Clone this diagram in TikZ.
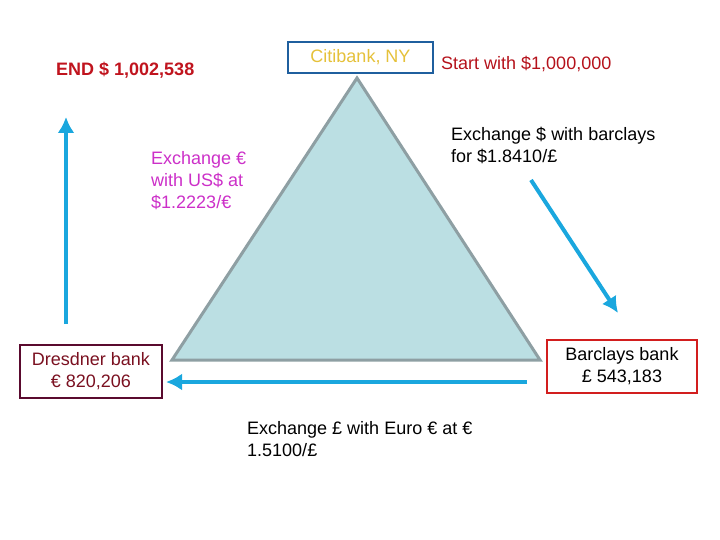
\documentclass[tikz,border=0pt]{standalone}
\usepackage{fontspec}
\setmainfont{Liberation Sans}
\usetikzlibrary{arrows.meta}
\usetikzlibrary{positioning}

\definecolor{flowblue}{HTML}{1AA7DE}
\definecolor{trifill}{HTML}{BBDFE3}
\definecolor{triedge}{HTML}{8E9FA3}
\definecolor{citiblue}{HTML}{1F5F9E}
\definecolor{citigold}{HTML}{E5C13A}
\definecolor{endred}{HTML}{C0141E}
\definecolor{startred}{HTML}{B5121B}
\definecolor{eurotext}{HTML}{CC30C8}
\definecolor{dresdneredge}{HTML}{5A0A2E}
\definecolor{dresdnertext}{HTML}{7A1020}
\definecolor{barclaysedge}{HTML}{D21E1E}

\begin{document}
\begin{tikzpicture}[x=1pt,y=-1pt,
    every node/.style={font=\fontsize{18}{22}\selectfont},
    bank/.style={draw,line width=2.5pt,align=center,inner sep=0pt},
    note/.style={align=left,inner sep=0pt,anchor=north west},
    flow/.style={draw=flowblue,line width=4pt,-{Latex[length=16pt,width=17pt]}}]

  \useasboundingbox (0,0) rectangle (720,540);

  % the triangle
  \coordinate (apex)  at (357,78);
  \coordinate (left)  at (172,360);
  \coordinate (right) at (540,360);
  \draw [fill=trifill,draw=triedge,line width=3pt,line join=miter]
    (apex) -- (right) -- (left) -- cycle;

  % banks
  \node [bank,draw=citiblue,text=citigold,minimum width=145pt,minimum height=31pt]
    (citi) at (360.5,57.5) {Citibank, NY};
  \node [bank,draw=dresdneredge,text=dresdnertext,minimum width=142pt,minimum height=53pt]
    (dresdner) at (91,371.5) {Dresdner bank\\€ 820,206};
  \node [bank,draw=barclaysedge,minimum width=150pt,minimum height=53pt]
    (barclays) at (622,366.5) {Barclays bank\\£ 543,183};

  % amounts
  \node [anchor=base west,inner sep=0pt,text=endred,font=\fontsize{18}{22}\selectfont\bfseries]
    (end) at (56,76) {END \$ 1,002,538};
  \node [anchor=base west,inner sep=0pt,text=startred]
    (start) at (441,70) {Start with \$1,000,000};

  % exchanges
  \node [note,text=eurotext] (euro2usd) at (151,151)
    {Exchange €\\with US\$ at\\\$1.2223/€};
  \node [note] (usd2gbp) at (451,127)
    {Exchange \$ with barclays\\for \$1.8410/£};
  \node [note] (gbp2euro) at (247,421)
    {Exchange £ with Euro € at €\\1.5100/£};

  % flows
  \coordinate (s1) at (531,180);
  \coordinate (e1) at (618,313);
  \coordinate (s2) at (527,382);
  \coordinate (e2) at (166,382);
  \coordinate (s3) at (66,324);
  \coordinate (e3) at (66,117);
  \path [flow] (s1) -- (e1);
  \path [flow] (s2) -- (e2);
  \path [flow] (s3) -- (e3);

\end{tikzpicture}
\end{document}
